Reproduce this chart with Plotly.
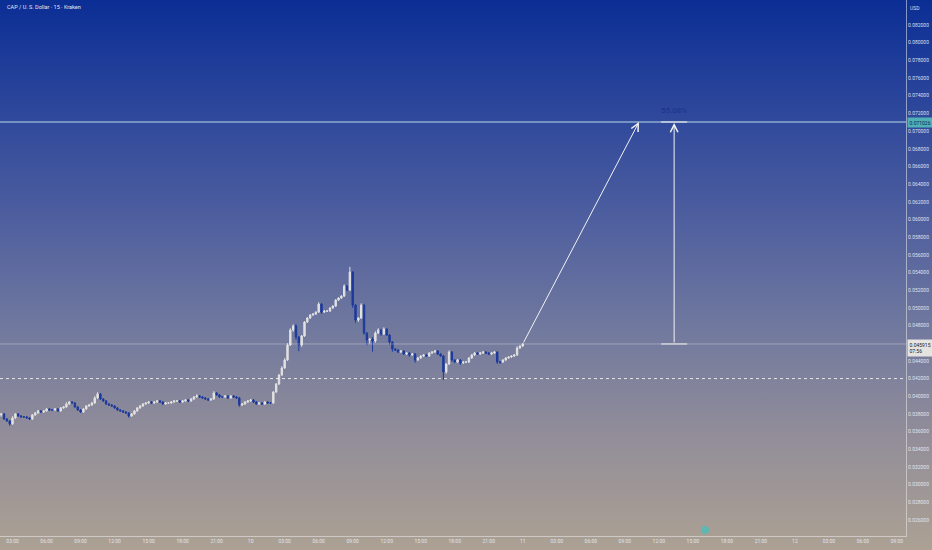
import base64
import pandas as pd
import plotly.graph_objects as go

# ---------------- data ----------------
title_text = "CAP / U. S. Dollar · 15 · Kraken"
start_time = "2025-06-09 02:00"
first_open = 0.03789

closes = [
    0.03800, 0.03743, 0.03721, 0.03687, 0.03755, 0.03800, 0.03777, 0.03766, 0.03766, 0.03755,
    0.03743, 0.03789, 0.03811, 0.03834, 0.03822, 0.03834, 0.03856, 0.03845, 0.03845, 0.03856,
    0.03834, 0.03868, 0.03879, 0.03913, 0.03935, 0.03924, 0.03879, 0.03845, 0.03822, 0.03856,
    0.03890, 0.03901, 0.03924, 0.03981, 0.04026, 0.03969, 0.03947, 0.03913, 0.03901, 0.03890,
    0.03868, 0.03845, 0.03834, 0.03822, 0.03811, 0.03777, 0.03800, 0.03834, 0.03868, 0.03890,
    0.03913, 0.03924, 0.03935, 0.03924, 0.03935, 0.03947, 0.03935, 0.03913, 0.03924, 0.03924,
    0.03935, 0.03947, 0.03947, 0.03935, 0.03947, 0.03958, 0.03947, 0.03969, 0.03992, 0.04003,
    0.03992, 0.03981, 0.03969, 0.03958, 0.03969, 0.04037, 0.04015, 0.03992, 0.03992, 0.04003,
    0.03981, 0.04003, 0.03992, 0.03981, 0.03901, 0.03913, 0.03935, 0.03947, 0.03958, 0.03935,
    0.03913, 0.03924, 0.03913, 0.03935, 0.03924, 0.03924, 0.04048, 0.04139, 0.04241, 0.04320,
    0.04410, 0.04580, 0.04749, 0.04794, 0.04670, 0.04580, 0.04682, 0.04839, 0.04885, 0.04919,
    0.04930, 0.04952, 0.05043, 0.04952, 0.04964, 0.04964, 0.04998, 0.05020, 0.05088, 0.05111,
    0.05133, 0.05246, 0.05201, 0.05404, 0.05031, 0.04862, 0.04885, 0.05031, 0.04715, 0.04636,
    0.04647, 0.04625, 0.04715, 0.04749, 0.04704, 0.04760, 0.04692, 0.04613, 0.04534, 0.04523,
    0.04500, 0.04512, 0.04478, 0.04489, 0.04467, 0.04478, 0.04410, 0.04433, 0.04455, 0.04467,
    0.04455, 0.04489, 0.04500, 0.04512, 0.04478, 0.04455, 0.04274, 0.04365, 0.04500, 0.04410,
    0.04387, 0.04410, 0.04376, 0.04387, 0.04387, 0.04433, 0.04467, 0.04489, 0.04478, 0.04489,
    0.04500, 0.04489, 0.04478, 0.04489, 0.04500, 0.04387, 0.04387, 0.04410, 0.04433, 0.04444,
    0.04455, 0.04467, 0.04546, 0.04568, 0.045915,
]

# wick lengths beyond the candle body, in units of 0.0001 USD
wick_up = [
    1, 1, 1, 1, 2, 1, 1, 1, 1, 1,
    1, 1, 1, 1, 1, 1, 1, 1, 1, 1,
    1, 1, 1, 2, 1, 1, 1, 1, 1, 1,
    1, 1, 1, 2, 2, 1, 1, 1, 1, 1,
    1, 1, 1, 1, 1, 1, 1, 1, 1, 1,
    1, 1, 1, 1, 1, 1, 1, 1, 1, 1,
    1, 1, 1, 1, 1, 1, 1, 1, 1, 2,
    1, 1, 1, 1, 1, 2, 1, 1, 1, 1,
    1, 1, 1, 1, 1, 1, 1, 1, 1, 1,
    1, 1, 1, 1, 1, 1, 1, 1, 1, 2,
    2, 2, 2, 2, 2, 1, 1, 1, 1, 1,
    1, 1, 2, 1, 1, 1, 1, 1, 1, 1,
    1, 2, 1, 6, 1, 1, 1, 2, 1, 1,
    1, 2, 2, 2, 1, 2, 1, 1, 1, 1,
    1, 1, 1, 1, 1, 1, 1, 1, 1, 1,
    1, 1, 1, 1, 1, 1, 1, 1, 2, 1,
    1, 1, 1, 1, 1, 1, 1, 1, 1, 1,
    1, 1, 1, 1, 1, 1, 1, 1, 1, 1,
    1, 1, 2, 1, 1,
]
wick_dn = [
    2, 1, 1, 2, 1, 1, 1, 1, 1, 1,
    1, 1, 1, 1, 1, 1, 1, 1, 1, 1,
    1, 1, 1, 1, 1, 1, 1, 1, 1, 1,
    1, 1, 1, 1, 1, 1, 1, 1, 1, 1,
    1, 1, 1, 1, 1, 2, 1, 1, 1, 1,
    1, 1, 1, 1, 1, 1, 1, 1, 1, 1,
    1, 1, 1, 1, 1, 1, 1, 1, 1, 1,
    1, 1, 1, 1, 1, 1, 1, 1, 1, 1,
    1, 1, 1, 1, 2, 1, 1, 1, 1, 1,
    1, 1, 1, 1, 1, 1, 1, 1, 1, 1,
    1, 1, 1, 2, 3, 7, 2, 1, 1, 1,
    1, 1, 1, 2, 1, 1, 1, 1, 1, 1,
    1, 1, 1, 1, 3, 3, 2, 1, 2, 6,
    4, 12, 2, 1, 2, 1, 1, 3, 3, 1,
    1, 1, 1, 1, 2, 1, 3, 1, 1, 1,
    1, 1, 1, 1, 1, 1, 9, 2, 1, 2,
    1, 1, 2, 1, 1, 1, 1, 1, 1, 1,
    1, 1, 1, 1, 1, 2, 2, 1, 1, 1,
    1, 1, 1, 1, 1,
]

target_price = 0.071026
target_label = "0.071026"
last_label = "0.045915"
countdown_label = "07:56"
pct_text = "55.08%"
support_price = 0.042
y_tick_values = [0.026, 0.028, 0.030, 0.032, 0.034, 0.036, 0.038, 0.040, 0.042, 0.044,
                 0.046, 0.048, 0.050, 0.052, 0.054, 0.056, 0.058, 0.060, 0.062, 0.064,
                 0.066, 0.068, 0.070, 0.072, 0.074, 0.076, 0.078, 0.080, 0.082]
x_tick_start = "2025-06-09 03:00"
x_tick_end = "2025-06-12 09:00"

assert len(closes) == len(wick_up) == len(wick_dn)

# ---------------- derived ----------------
times = pd.date_range(start_time, periods=len(closes), freq="15min")
opens = [first_open] + closes[:-1]
highs = [max(o, c) + u * 1e-4 for o, c, u in zip(opens, closes, wick_up)]
lows = [min(o, c) - d * 1e-4 for o, c, d in zip(opens, closes, wick_dn)]

tick_times = pd.date_range(x_tick_start, x_tick_end, freq="3h")
tick_text = [str(t.day) if t.hour == 0 else t.strftime("%H:%M") for t in tick_times]

step = pd.Timedelta(minutes=15)
t_last = times[-1]
t_proj = t_last + 41 * step
t_meas = t_last + 53.4 * step
cap_half = 4.6 * step
x_range = [times[0] - pd.Timedelta(minutes=6.4), times[0] + pd.Timedelta(hours=79.8)]
y_range = [0.02419, 0.08483]

# ---------------- background gradient ----------------
W, H = 932, 550
PW, PH = 906, 536
svg = (
    f'<svg xmlns="http://www.w3.org/2000/svg" width="{W}" height="{H}" viewBox="0 0 {W} {H}" '
    'preserveAspectRatio="none"><defs><linearGradient id="g" x1="0" y1="0" x2="0" y2="1">'
    '<stop offset="0" stop-color="#0b2e95"/>'
    '<stop offset="0.2" stop-color="#2d479b"/>'
    '<stop offset="0.4" stop-color="#4f5f9f"/>'
    '<stop offset="0.6" stop-color="#71799e"/>'
    '<stop offset="0.8" stop-color="#938e99"/>'
    '<stop offset="1" stop-color="#aca193"/>'
    f'</linearGradient></defs><rect width="{W}" height="{H}" fill="url(#g)"/></svg>'
)
svg_uri = "data:image/svg+xml;base64," + base64.b64encode(svg.encode()).decode()

FONT = "Roboto, DejaVu Sans, sans-serif"
TICK_COLOR = "rgba(236,238,245,0.92)"
UP = "#e2e2e2"
DOWN = "#1c3a9c"

fig = go.Figure()
fig.add_trace(go.Candlestick(
    x=times, open=opens, high=highs, low=lows, close=closes,
    increasing=dict(line=dict(color=UP, width=1), fillcolor=UP),
    decreasing=dict(line=dict(color=DOWN, width=1), fillcolor=DOWN),
    whiskerwidth=0, hoverinfo="skip", showlegend=False,
))

shapes = [
    dict(type="line", xref="paper", x0=0, x1=1, yref="y", y0=target_price, y1=target_price,
         line=dict(color="#b9dde8", width=1)),
    dict(type="line", xref="paper", x0=0, x1=1, yref="y", y0=closes[-1], y1=closes[-1],
         line=dict(color="rgba(255,255,255,0.3)", width=1)),
    dict(type="line", xref="paper", x0=0, x1=1, yref="y", y0=support_price, y1=support_price,
         line=dict(color="rgba(255,255,255,0.8)", width=1, dash="3px,3px")),
    dict(type="line", xref="x", yref="y", x0=t_meas - cap_half, x1=t_meas + cap_half,
         y0=target_price, y1=target_price, line=dict(color="#f2f2f2", width=1)),
    dict(type="line", xref="x", yref="y", x0=t_meas - cap_half, x1=t_meas + cap_half,
         y0=closes[-1], y1=closes[-1], line=dict(color="#f2f2f2", width=1)),
    dict(type="circle", xref="paper", yref="paper", x0=701 / PW, x1=709 / PW,
         y0=1 - 534 / PH, y1=1 - 526 / PH, fillcolor="#5db7b2", line=dict(width=0)),
]

annotations = [
    # projection arrow
    dict(x=t_proj, y=target_price, ax=t_last, ay=closes[-1], xref="x", yref="y",
         axref="x", ayref="y", showarrow=True, arrowhead=5, arrowsize=1.5, arrowwidth=1,
         arrowcolor="#f2f2f2", text=""),
    # measure arrow
    dict(x=t_meas, y=target_price, ax=t_meas, ay=closes[-1], xref="x", yref="y",
         axref="x", ayref="y", showarrow=True, arrowhead=5, arrowsize=1.5, arrowwidth=1,
         arrowcolor="#f2f2f2", text="", standoff=1),
    dict(x=t_meas, y=target_price, xref="x", yref="y", yshift=12, showarrow=False,
         text=pct_text, font=dict(family=FONT, size=8, color="#1a3390")),
    # title
    dict(x=5 / PW, y=1 - 7 / PH, xref="paper", yref="paper", xanchor="left", yanchor="middle",
         showarrow=False, text=title_text, font=dict(family=FONT, size=5.5, color="#e4e7f0")),
    # currency
    dict(x=915 / PW, y=1 - 8 / PH, xref="paper", yref="paper", xanchor="center",
         yanchor="middle", showarrow=False, text="USD",
         font=dict(family=FONT, size=5, color=TICK_COLOR)),
    # price labels
    dict(x=1, y=target_price, xref="paper", yref="y", xanchor="left", yanchor="middle",
         xshift=1, showarrow=False, text=target_label, bgcolor="#4fb1b6", borderpad=1.5,
         font=dict(family=FONT, size=5, color="#0d2450")),
    dict(x=1, y=closes[-1], xref="paper", yref="y", xanchor="left", yanchor="top",
         xshift=1, yshift=5, showarrow=False, align="left",
         text=f"{last_label}<br>{countdown_label}", bgcolor="rgba(235,233,228,0.95)",
         borderpad=1.5, font=dict(family=FONT, size=5, color="#1a1a1a")),
]

fig.update_layout(
    width=W, height=H,
    margin=dict(l=0, r=W - PW, t=0, b=H - PH, autoexpand=False),
    paper_bgcolor="#6f789f", plot_bgcolor="rgba(0,0,0,0)",
    images=[dict(source=svg_uri, xref="paper", yref="paper", x=0, y=1,
                 sizex=W / PW, sizey=H / PH, xanchor="left", yanchor="top",
                 sizing="stretch", layer="below")],
    shapes=shapes, annotations=annotations,
    showlegend=False, hovermode=False,
    xaxis=dict(type="date", range=x_range, rangeslider=dict(visible=False),
               showgrid=False, zeroline=False, showline=True,
               linecolor="rgba(235,235,235,0.55)", linewidth=1,
               tickmode="array", tickvals=tick_times, ticktext=tick_text,
               ticks="", tickfont=dict(family=FONT, size=5, color=TICK_COLOR)),
    yaxis=dict(side="right", range=y_range, showgrid=False, zeroline=False,
               showline=True, linecolor="rgba(235,235,235,0.55)", linewidth=1,
               tickmode="array", tickvals=y_tick_values, tickformat=".6f",
               ticks="", tickfont=dict(family=FONT, size=5, color=TICK_COLOR)),
)

fig.write_html("out.html", config={"displayModeBar": False},
               post_script="document.body.style.margin='0';document.body.style.overflow='hidden';")
